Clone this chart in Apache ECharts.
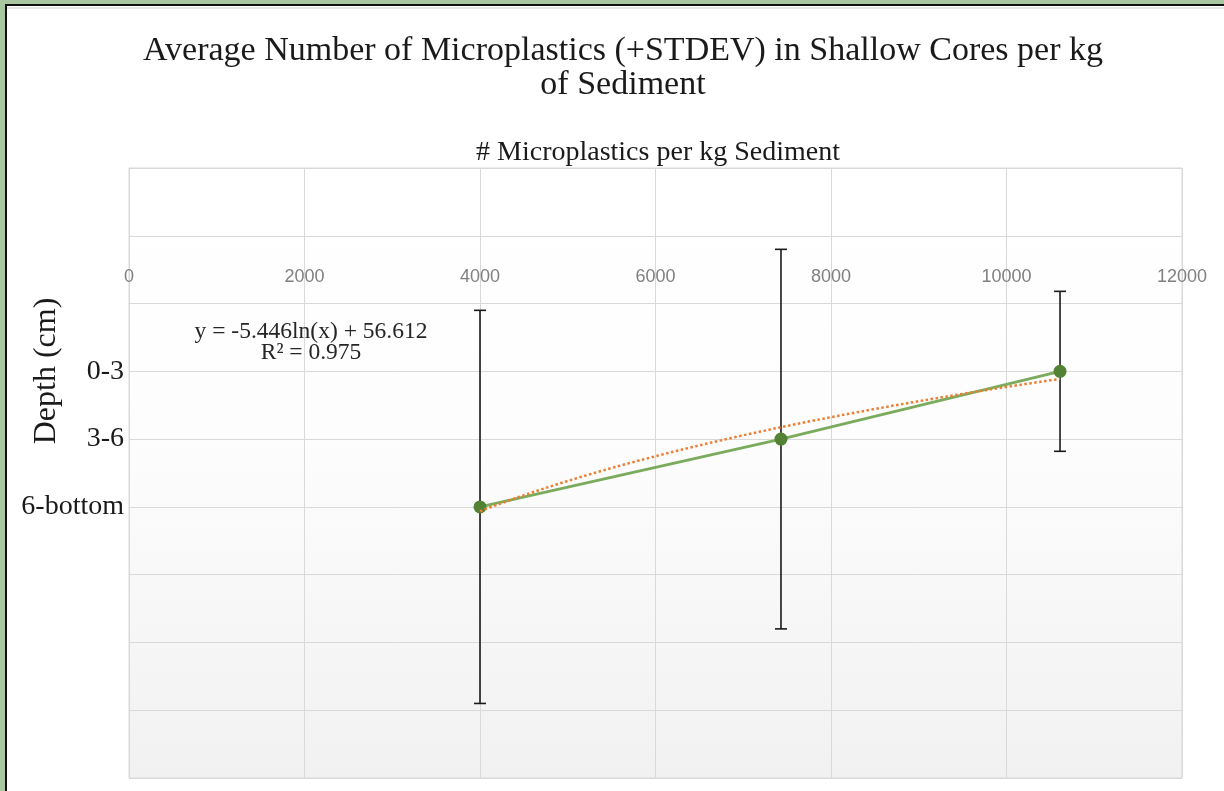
<!DOCTYPE html>
<html>
<head>
<meta charset="utf-8">
<script src="https://cdn.jsdelivr.net/npm/echarts@6/dist/echarts.min.js"></script>
<style>
html,body{margin:0;padding:0;background:#fff;}
#chart{width:1224px;height:791px;}
</style>
</head>
<body>
<div id="chart"></div>
<script>
// ---- data ----
const depthLabels = ['0-3', '3-6', '6-bottom'];
const depthPos = [1, 2, 3];                    // position of each depth class on the (reversed) depth axis
const meanCount = [10610, 7430, 4000];         // # microplastics per kg sediment
const stdevDepth = [1.18, 2.8, 2.9];           // drawn error-bar half length (depth-axis units)
const xTicks = { min: 0, max: 12000, step: 2000 };
const titleText = 'Average Number of Microplastics (+STDEV) in Shallow Cores per kg\nof Sediment';
const xTitle = '# Microplastics per kg Sediment';
const yTitle = 'Depth (cm)';
const eqLines = ['y = -5.446ln(x) + 56.612', 'R² = 0.975'];

// logarithmic least-squares trendline through the points (as the spreadsheet does)
const lnx = meanCount.map(Math.log);
const mx = lnx.reduce((a, b) => a + b, 0) / lnx.length;
const my = depthPos.reduce((a, b) => a + b, 0) / depthPos.length;
let sxy = 0, sxx = 0;
lnx.forEach((l, i) => { sxy += (l - mx) * (depthPos[i] - my); sxx += (l - mx) * (l - mx); });
const slope = sxy / sxx, icpt = my - slope * mx;
const xLo = Math.min(...meanCount), xHi = Math.max(...meanCount);
const trend = [];
for (let k = 0; k <= 60; k++) {
  const x = xLo + (xHi - xLo) * k / 60;
  trend.push([x, slope * Math.log(x) + icpt]);
}

const serif = "'Liberation Serif', 'Times New Roman', serif";
const chart = echarts.init(document.getElementById('chart'));
chart.setOption({
  animation: false,
  backgroundColor: '#ffffff',
  graphic: [
    { type: 'rect', z: -10, shape: { x: 0, y: 0, width: 1224, height: 791 }, style: { fill: '#a9c7a0' } },
    { type: 'rect', z: -9, shape: { x: 5, y: 4, width: 1219, height: 787 }, style: { fill: '#111' } },
    { type: 'rect', z: -8, shape: { x: 7, y: 6, width: 1217, height: 785 }, style: { fill: '#fff' } },
    { type: 'rect', z: -7, shape: { x: 7, y: 7, width: 1217, height: 2 }, style: { fill: '#e6e6e6' } },
    { type: 'text', z: 10, x: 47, y: 371, rotation: Math.PI / 2,
      style: { text: yTitle, font: '32px ' + serif, fill: '#1a1a1a', align: 'center', verticalAlign: 'middle' } },
    { type: 'text', z: 10, x: 311, y: 332,
      style: { text: eqLines[0], font: '23.5px ' + serif, fill: '#262626', align: 'center', verticalAlign: 'middle' } },
    { type: 'text', z: 10, x: 311, y: 353,
      style: { text: eqLines[1], font: '23.5px ' + serif, fill: '#262626', align: 'center', verticalAlign: 'middle' } }
  ],
  title: [
    { text: titleText, left: 618, top: 29, textAlign: 'center',
      textStyle: { fontFamily: serif, fontSize: 34, fontWeight: 'normal', color: '#1a1a1a', lineHeight: 34 } },
    { text: xTitle, left: 653, top: 134, textAlign: 'center',
      textStyle: { fontFamily: serif, fontSize: 28, fontWeight: 'normal', color: '#1a1a1a' } }
  ],
  grid: {
    left: 129, right: 42, top: 168, bottom: 13, show: true,
    borderColor: '#d9d9d9', borderWidth: 1,
    backgroundColor: new echarts.graphic.LinearGradient(0, 0, 0, 1, [
      { offset: 0, color: '#ffffff' }, { offset: 0.45, color: '#fdfdfd' }, { offset: 1, color: '#f1f1f1' }
    ])
  },
  xAxis: {
    type: 'value', min: xTicks.min, max: xTicks.max, interval: xTicks.step, position: 'top',
    offset: -135.5,
    axisLine: { show: true, onZero: false, lineStyle: { color: '#d9d9d9', width: 1 } },
    axisTick: { show: false },
    axisLabel: { margin: 17, fontFamily: "'Liberation Sans', Arial, sans-serif", fontSize: 18, color: '#808080',
      formatter: v => String(v) },
    splitLine: { show: true, lineStyle: { color: '#d9d9d9', width: 1 } }
  },
  yAxis: {
    type: 'value', inverse: true, min: -2, max: 7, interval: 1,
    axisLine: { show: true, onZero: false, lineStyle: { color: '#d9d9d9' } },
    axisTick: { show: false },
    axisLabel: {
      margin: 5, fontFamily: serif, fontSize: 28, color: '#1a1a1a',
      formatter: v => { const i = depthPos.indexOf(v); return i >= 0 ? depthLabels[i] : ''; }
    },
    splitLine: { show: true, lineStyle: { color: '#d9d9d9', width: 1 } }
  },
  series: [
    {
      type: 'custom', z: 2,
      data: meanCount.map((v, i) => [v, depthPos[i], stdevDepth[i]]),
      renderItem: (params, api) => {
        const x = api.value(0), y = api.value(1), e = api.value(2);
        const p1 = api.coord([x, y - e]), p2 = api.coord([x, y + e]);
        const cap = 6;
        const st = { stroke: '#1a1a1a', lineWidth: 1.6 };
        return { type: 'group', children: [
          { type: 'line', shape: { x1: p1[0], y1: p1[1], x2: p2[0], y2: p2[1] }, style: st },
          { type: 'line', shape: { x1: p1[0] - cap, y1: p1[1], x2: p1[0] + cap, y2: p1[1] }, style: st },
          { type: 'line', shape: { x1: p2[0] - cap, y1: p2[1], x2: p2[0] + cap, y2: p2[1] }, style: st }
        ] };
      }
    },
    {
      type: 'line', z: 4, data: meanCount.map((v, i) => [v, depthPos[i]]),
      symbol: 'circle', symbolSize: 13,
      itemStyle: { color: '#548235' },
      lineStyle: { color: '#7bab5c', width: 3 }
    },
    {
      type: 'line', z: 5, data: trend, showSymbol: false, symbol: 'none',
      lineStyle: { color: '#ed7d31', width: 2.5, type: [2.5, 2.5] }
    }
  ]
});
</script>
</body>
</html>
